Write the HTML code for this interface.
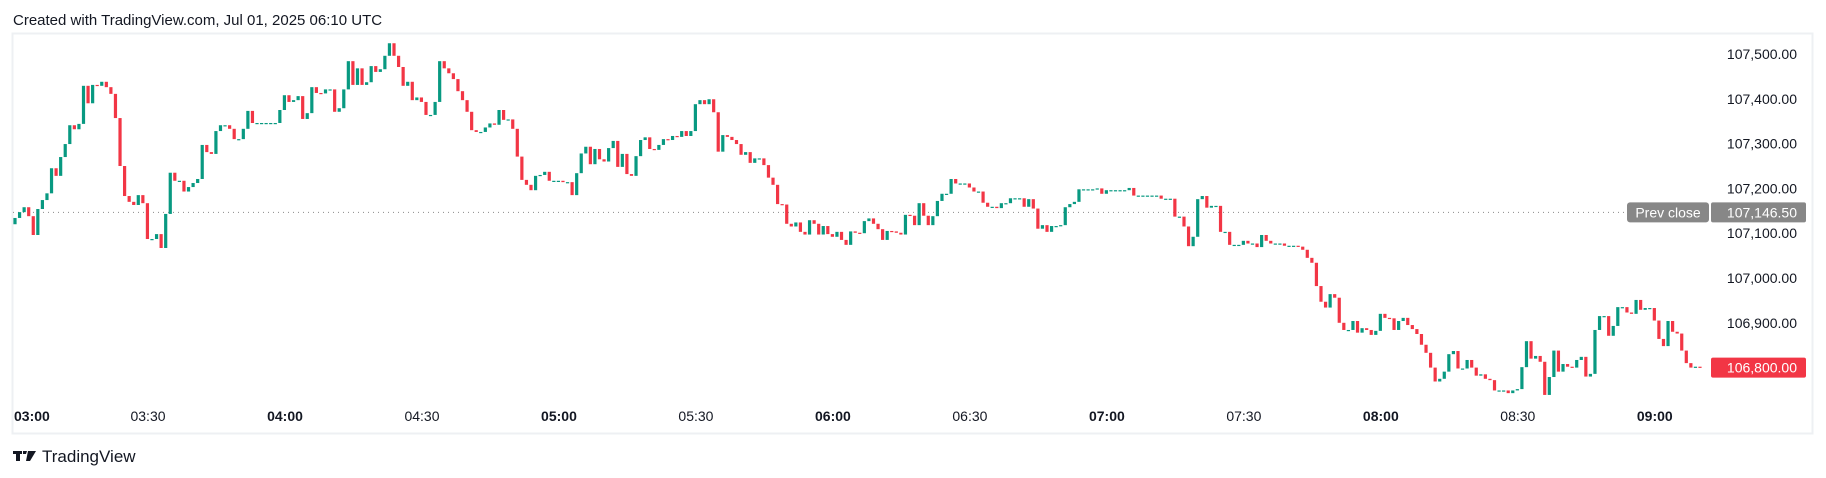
<!DOCTYPE html>
<html><head><meta charset="utf-8">
<style>
html,body{margin:0;padding:0;background:#fff;}
body{width:1826px;height:478px;overflow:hidden;position:relative;font-family:"Liberation Sans",sans-serif;}
svg{position:absolute;left:0;top:0;}
</style></head>
<body>
<svg id="chart" width="1826" height="478">
  <text x="13" y="25" font-size="15" fill="#131722">Created with TradingView.com, Jul 01, 2025 06:10 UTC</text>
  <rect x="12.5" y="33.5" width="1800" height="400" fill="none" stroke="#eef0f3" stroke-width="2"/>
  <g id="grid"></g>
  <g id="candles"></g>
  <g id="yaxis"></g>
  <g id="xaxis"></g>
  <g>
    <path d="M13 451h9v3h-2v7h-4v-7h-3z M23 451h4l-1 3h-3z M28 451h8l-6 10h-4z" fill="#131722"/>
    <text x="42" y="462" font-size="17" fill="#131722">TradingView</text>
  </g>
</svg>
<script>
const prevClose = 107146.5;
const lastPrice = 106800;
const yTicks = [107500,107400,107300,107200,107100,107000,106900,106800];
const timeLabels = ["03:00","03:30","04:00","04:30","05:00","05:30","06:00","06:30","07:00","07:30","08:00","08:30","09:00"];
const timeMinutes = [0,30,60,90,120,150,180,210,240,270,300,330,360];
const firstOpen = 107120;
const closes = [
107134,107147,107158,107138,107096,107154,107174,107189,107245,107228,107270,107299,107341,107332,107344,107429,107390,107431,107429,107438,107426,107411,107357,107250,107183,107170,107163,107185,107167,107087,107087,107098,107067,107143,107235,107217,107217,107193,107203,107212,107221,107297,107281,107277,107328,107341,107341,107333,107310,107310,107333,107373,107346,
107346,107346,107346,107346,107346,
107375,107408,107393,107397,107406,107355,107368,107426,107413,107412,107421,107421,107371,107379,107421,107484,107431,107468,107431,107437,107473,107460,107466,107496,107524,107496,107471,107429,107438,107397,107403,107393,107364,107364,107393,107484,107468,107457,107444,107417,107397,107371,107330,107326,107326,
107336,107345,107342,107375,107353,107354,107333,107271,107219,107208,107196,107228,107230,107237,107217,107217,107217,107214,107214,107185,107234,107278,107293,107254,107288,107265,107260,107290,107306,107248,107277,107232,107228,107272,107308,107314,107288,107286,107297,107310,107308,107317,107315,107328,107317,107328,107388,107397,107388,107399,107370,107282,107319,107315,107308,107299,107275,107281,107257,107267,107267,107252,107224,107208,107165,107164,107121,107115,107124,107103,107097,107129,107121,107097,107116,107098,107092,107103,107085,107074,107104,107101,107100,107127,107133,107121,107109,107085,107105,107104,107101,107097,107141,107139,107118,107167,107139,107118,
107138,107172,107188,107188,107221,107211,107211,107211,107202,107193,107193,107168,107159,107159,107156,107167,107167,107178,107178,107178,107159,107176,107155,107110,107118,107103,107116,107116,107118,107158,107165,107170,107198,107198,107198,107198,107200,107188,107196,107196,107196,107196,107196,107201,107184,107184,107184,107184,107184,107184,107177,107177,107177,107137,107137,107115,107071,107092,107176,107183,107157,107161,107161,107103,107103,107074,107074,107074,107083,107077,107077,107069,107096,107083,107077,107077,107077,107072,107072,107072,107070,107063,107045,107034,106982,
106947,106934,106964,106956,106900,106884,106884,106904,106878,106888,106884,106873,106882,106920,106911,106910,106884,106904,106911,106895,106886,106875,106851,106833,106800,106769,106775,106791,106830,106837,106798,106798,106817,106800,106782,106785,106775,106772,106749,106749,106749,106743,106749,106752,106801,106859,106820,106826,106813,106739,106779,106838,106791,106808,106802,106800,106817,106824,106780,106786,106884,106915,106915,106871,106893,106935,106935,106923,106920,106951,106929,106933,106933,106905,106864,106848,106904,106880,106876,106838,106810,106800,106802,106800
];

const NS = "http://www.w3.org/2000/svg";
function y(p){ return 54 + (107500 - p) * 0.448; }
function xIdx(i){ return 15 + i * (1700 - 15) / (closes.length - 1); }
function xMin(m){ return 285 + (m - 60) * 4.566; }
function mk(tag, attrs, parent){ const e=document.createElementNS(NS,tag); for(const k in attrs) e.setAttribute(k, attrs[k]); parent.appendChild(e); return e; }

const grid = document.getElementById('grid');
const pc = mk('line',{x1:13,x2:1628,y1:y(prevClose),y2:y(prevClose),stroke:'#8a8a8a','stroke-width':1,'stroke-dasharray':'1 4'},grid);



const cg = document.getElementById('candles');
let prev = firstOpen;
closes.forEach((c,i)=>{
  const o = prev; prev = c;
  const up = c >= o;
  const top = y(Math.max(o,c)), bot = y(Math.min(o,c));
  const r = mk('rect',{x:(xIdx(i)-1.6).toFixed(2),y:top.toFixed(2),width:3.2,height:Math.max(1.2,bot-top).toFixed(2),fill: up ? '#089981' : '#f23645'},cg);
  
  
});

const ya = document.getElementById('yaxis');
yTicks.forEach(t=>{
  if (t === lastPrice) return;
  const tx = mk('text',{x:1797,y:y(t)+5,'text-anchor':'end','font-size':14,fill:'#131722'},ya);
  tx.textContent = t.toLocaleString('en-US',{minimumFractionDigits:2});
  
  
});
const pcg = mk('g',{},ya);


mk('rect',{x:1627,y:y(prevClose)-10,width:82,height:20,rx:3,fill:'#878787'},pcg);
mk('rect',{x:1711,y:y(prevClose)-10,width:95,height:20,rx:2,fill:'#878787'},pcg);
const t1 = mk('text',{x:1668,y:y(prevClose)+5,'text-anchor':'middle','font-size':14,fill:'#fff'},pcg); t1.textContent='Prev close';
const t2 = mk('text',{x:1797,y:y(prevClose)+5,'text-anchor':'end','font-size':14,fill:'#fff'},pcg); t2.textContent=prevClose.toLocaleString('en-US',{minimumFractionDigits:2});
const lpg = mk('g',{},ya);


mk('rect',{x:1711,y:y(lastPrice)-10,width:95,height:20,rx:2,fill:'#f23645'},lpg);
const t3 = mk('text',{x:1797,y:y(lastPrice)+5,'text-anchor':'end','font-size':14,fill:'#fff'},lpg); t3.textContent=lastPrice.toLocaleString('en-US',{minimumFractionDigits:2});

const xa = document.getElementById('xaxis');
timeLabels.forEach((lab,i)=>{
  const bold = lab.endsWith(':00');
  let cx = xMin(timeMinutes[i]);
  let anchor = 'middle';
  if (cx < 34) { cx = 14; anchor = 'start'; }
  const tx = mk('text',{x:cx,y:421,'text-anchor':anchor,'font-size':14,fill:'#131722','font-weight':bold?'bold':'normal'},xa);
  tx.textContent = lab;
  
  
});
</script>
</body></html>
